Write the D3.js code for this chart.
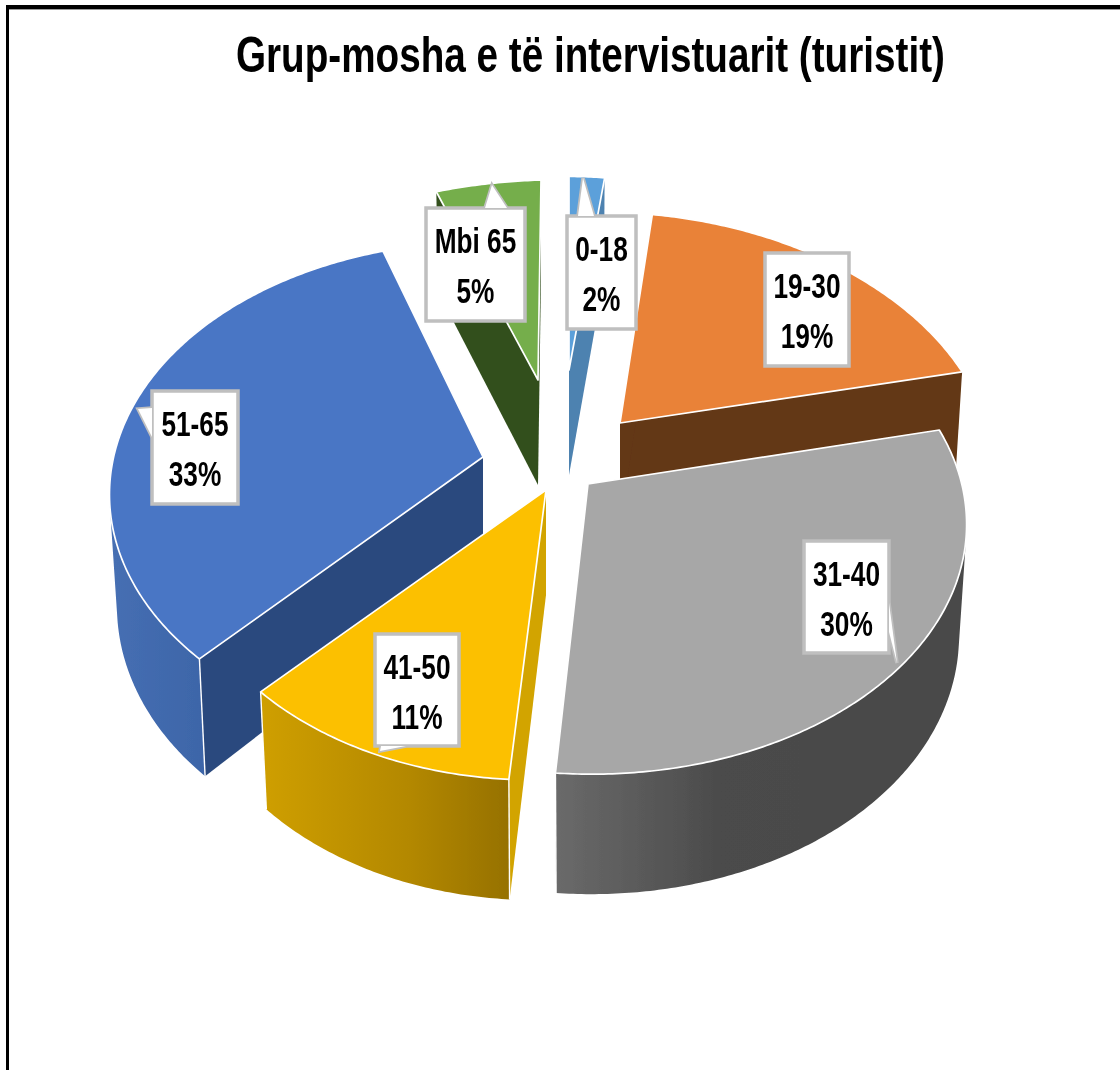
<!DOCTYPE html>
<html><head><meta charset="utf-8">
<script src="https://cdn.jsdelivr.net/npm/d3@7"></script>
<style>html,body{margin:0;padding:0;background:#fff}svg{display:block}</style>
</head><body>
<script>
// ---- data
const chartTitle = "Grup-mosha e të intervistuarit (turistit)";
const categories = ["0-18","19-30","31-40","41-50","51-65","Mbi 65"];
const percents   = [2,19,30,11,33,5];

// ---- colours
const topColors  = ["#5ca0da","#e98238","#a7a7a7","#fcc000","#4a76c5","#74ae4c"];
const sideColors = ["#4e82b0","#633713","#4a4a4a","#d2a400","#2c4a7e","#33501f"];
const wallStops  = [
  null, null,
  [["#6a6a6a",0],["#4b4b4b",0.4],["#484848",1]],
  [["#cf9f00",0],["#b38800",0.6],["#967100",1]],
  [["#466fb3",0],["#3d65a8",1]],
  null
];

// ---- pie projection settings
const W = 1120, H = 1070;
const rx = 375, ry = 247, persp = 0.1486;
const pieCenter = [555,457];
const explodeX = [14,65,33,-9,-72,-17];
const explodeY = [-87,-34,27,33,0,-77];
const scaleX   = [0.87,0.983,1,0.966,0.985,1.03];
const scaleY   = [0.90,0.98,1,1,1,0.93];
const tiltY    = [0,0.02,0.015,0,0,-0.03];
const skewX    = [0,0.038,-0.017,-0.036,0,-0.015];
const tipDepth = 105;

// ---- callouts [box x, y, w, h] and pointer
const calloutBox = [
  [567,216,69,113],[765,253,84,113],[804,541,85,112],
  [375,634,84,112],[152,391,86,113],[426,208,99,113]
];
const calloutPointer = [
  [[578,216],[583,178],[594,216]],
  null,
  [[889,603],[897,663],[889,632]],
  [[381,746],[380,751],[406,746]],
  [[152,408],[138,409],[152,437]],
  [[485,208],[492,185],[507,208]]
];

const svg = d3.select("body").append("svg").attr("width",W).attr("height",H);
const defs = svg.append("defs");
defs.append("filter").attr("id","soft").attr("x","-5%").attr("y","-5%").attr("width","110%").attr("height","110%")
  .append("feGaussianBlur").attr("stdDeviation",0.6);

svg.append("rect").attr("width",W).attr("height",H).attr("fill","#fff");
const root = svg.append("g").attr("filter","url(#soft)");

// frame
root.append("rect").attr("x",6).attr("y",5).attr("width",W-6).attr("height",4).attr("fill","#000");
root.append("rect").attr("x",9).attr("y",9).attr("width",W-9).attr("height",1).attr("fill","#999");
root.append("rect").attr("x",6).attr("y",5).attr("width",3).attr("height",H-5).attr("fill","#000");

// condensed text: horizontally scaled real text, centred on cx
function narrowText(parent,str,cx,y,size,factor,targetWidth){
  const t=parent.append("text").attr("font-family","'Liberation Sans',Arial,sans-serif")
    .attr("font-weight","bold").attr("font-size",size).attr("fill","#000").text(str);
  const len=t.node().getComputedTextLength();
  const f=targetWidth?targetWidth/len:factor;
  t.attr("transform",`translate(${cx-len*f/2},${y}) scale(${f},1)`);
}
narrowText(root,chartTitle,590.5,72,50,null,709);

// slices
const arcs = d3.pie().sort(null).value(d=>d)(percents);
const tips = arcs.map((_,i)=>[pieCenter[0]+explodeX[i], pieCenter[1]+explodeY[i]]);

function rim(i,t,bottom){
  const u=Math.sin(t), v=Math.cos(t), w=1/(1+persp*v);
  const bx=rx*u*w*scaleX[i], by=-ry*v*w*scaleY[i];
  let dx=bx+skewX[i]*by, dy=by+tiltY[i]*bx;
  if(bottom){ dx*=0.98; dy+=110-10*v; }
  return [tips[i][0]+dx, tips[i][1]+dy];
}
function angles(a,b){
  const n=Math.max(2,Math.ceil(Math.abs(b-a)/0.01));
  return d3.range(n+1).map(k=>a+(b-a)*k/n);
}
const arcPts=(i,a,b,bottom)=>angles(a,b).map(t=>rim(i,t,bottom));
const line = d3.line();
const closed = pts => line(pts)+"Z";
const tipBottom = i => [tips[i][0], tips[i][1]+tipDepth];

// one path of same-wound quads, so the swept wall keeps its tangent silhouette
function sweptWall(i,a,b){
  const ts=angles(a,b);
  let d="";
  for(let k=0;k<ts.length-1;k++){
    let q=[rim(i,ts[k],false),rim(i,ts[k+1],false),rim(i,ts[k+1],true),rim(i,ts[k],true)];
    if(d3.polygonArea(q)<0) q=q.reverse();
    d+=closed(q);
  }
  return d;
}

const order = [0,5,1,4,3,2];
order.forEach(i=>{
  const g = root.append("g");
  const a = arcs[i].startAngle, b = arcs[i].endAngle;
  // radial walls (the far one first)
  [b,a].forEach(t=>{
    g.append("path").attr("d",closed([tips[i],rim(i,t,false),rim(i,t,true),tipBottom(i)]))
      .attr("fill",sideColors[i]);
  });
  // outer wall
  const lo = Math.max(a,Math.PI*0.45), hi = Math.min(b,Math.PI*1.55);
  if(hi>lo && wallStops[i]){
    const pts = arcPts(i,lo,hi,false).concat(arcPts(i,lo,hi,true));
    const xs = pts.map(p=>p[0]);
    const gid="wall"+i;
    const grad=defs.append("linearGradient").attr("id",gid).attr("gradientUnits","userSpaceOnUse")
      .attr("x1",d3.min(xs)).attr("x2",d3.max(xs)).attr("y1",0).attr("y2",0);
    wallStops[i].forEach(s=>grad.append("stop").attr("offset",s[1]).attr("stop-color",s[0]));
    g.append("path").attr("d",sweptWall(i,lo,hi)).attr("fill",`url(#${gid})`).attr("fill-rule","nonzero");
    // white corner line where the wall meets the radial face
    [a,b].forEach(t=>{ if(t>=lo&&t<=hi)
      g.append("path").attr("d",line([rim(i,t,false),rim(i,t,true)])).attr("fill","none").attr("stroke","#fff").attr("stroke-width",1.4);
    });
  }
  // top face
  g.append("path").attr("d",closed([tips[i]].concat(arcPts(i,a,b,false))))
    .attr("fill",topColors[i]).attr("stroke","#fff").attr("stroke-width",1.7).attr("stroke-linejoin","round");
});

// callouts
categories.forEach((c,i)=>{
  const [x,y,w,h]=calloutBox[i];
  const g=root.append("g");
  const rectPts=[[x,y],[x+w,y],[x+w,y+h],[x,y+h]];
  const border=s=>s.attr("stroke","#bfbfbf").attr("stroke-width",3.5);
  if(calloutPointer[i]) g.append("path").attr("d",closed(calloutPointer[i])).attr("fill","#fff").call(border);
  g.append("path").attr("d",closed(rectPts)).attr("fill","#fff").call(border);
  if(calloutPointer[i]) g.append("path").attr("d",closed(calloutPointer[i])).attr("fill","#fff");
  [c, percents[i]+"%"].forEach((t,k)=>narrowText(g,t,x+w/2,y+45+k*50,35,0.75));
});
</script>
</body></html>
